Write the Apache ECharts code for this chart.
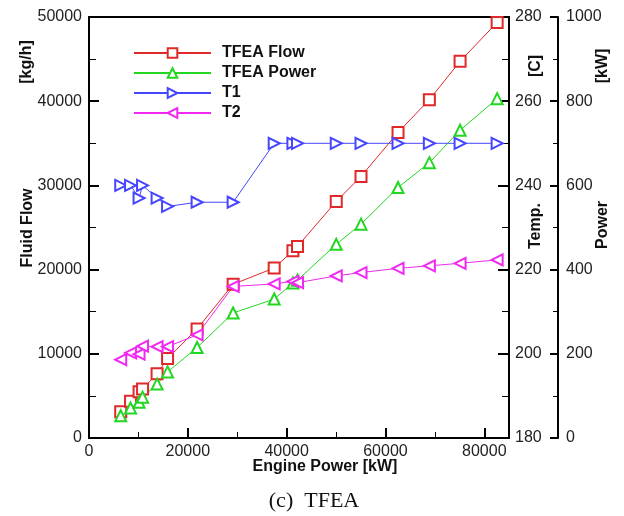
<!DOCTYPE html>
<html>
<head>
<meta charset="utf-8">
<script src="https://cdn.jsdelivr.net/npm/echarts@6/dist/echarts.min.js"></script>
<style>
html,body{margin:0;padding:0;background:#fff;}
#chart{width:624px;height:516px;}
</style>
</head>
<body>
<div id="chart"></div>
<script>
var enginePower = [6420, 8410, 10130, 10840, 13780, 15900, 21880, 29170, 37480, 41270, 42200, 50040, 55050, 62540, 68880, 75100, 82600];
var tfeaFlow = [3120, 4350, 5500, 5820, 7640, 9440, 12950, 18260, 20190, 22240, 22750, 28100, 31070, 36290, 40180, 44730, 49360];
var tfeaPower = [53, 71, 85, 97, 128, 157, 215, 297, 330, 368, 375, 460, 508, 595, 654, 731, 806];
var t1 = [240, 240, 237, 240, 237, 235, 236, 236, 250, 250, 250, 250, 250, 250, 250, 250, 250];
var t2 = [198.6, 200.2, 199.9, 201.8, 201.7, 201.7, 204.5, 216.0, 216.6, 217.2, 216.9, 218.5, 219.3, 220.3, 220.9, 221.5, 222.3];
var seriesNames = ['TFEA Flow', 'TFEA Power', 'T1', 'T2'];

function pairs(xs, ys) { return xs.map(function (x, i) { return [x, ys[i]]; }); }

var chart = echarts.init(document.getElementById('chart'), null, {renderer: 'canvas'});
var FONT = 'Liberation Sans';
var plain = function (v) { return String(v); };
var labelStyle = {color: '#222', fontFamily: FONT, fontSize: 16, formatter: plain};

function mkLine(name, color, data, yIdx, symbol, rot) {
  return {
    name: name, type: 'line', data: data, yAxisIndex: yIdx,
    symbol: symbol, symbolSize: 11, symbolRotate: rot,
    showAllSymbol: true,
    lineStyle: {color: color, width: 1},
    itemStyle: {color: color, borderColor: color, borderWidth: 1},
    emphasis: {disabled: true}, animation: false
  };
}

var option = {
  animation: false,
  grid: {left: 89, right: 115, top: 17, bottom: 78, show: true, borderColor: '#000', borderWidth: 2},
  legend: {
    data: seriesNames, orient: 'vertical', left: 128, top: 40,
    itemWidth: 77, itemHeight: 12, itemGap: 4, padding: 5,
    textStyle: {fontFamily: FONT, fontSize: 16, fontWeight: 'bold', color: '#111', lineHeight: 16, padding: [0, 0, 0, 6]},
    selectedMode: false
  },
  xAxis: {
    type: 'value', min: 0, max: 85000, interval: 20000,
    axisLine: {lineStyle: {color: '#000', width: 2}},
    axisTick: {inside: true, length: 10, lineStyle: {color: '#000', width: 2}},
    minorTick: {show: true, splitNumber: 2, length: 6, lineStyle: {color: '#000', width: 1}},
    splitLine: {show: false},
    axisLabel: Object.assign({margin: 6, showMaxLabel: false}, labelStyle)
  },
  yAxis: [
    {
      type: 'value', min: 0, max: 50000, interval: 10000, position: 'left',
      axisLine: {show: true, lineStyle: {color: '#000', width: 2}},
      axisTick: {show: true, inside: true, length: 10, lineStyle: {color: '#000', width: 2}},
      minorTick: {show: true, splitNumber: 2, length: 7, lineStyle: {color: '#000', width: 1}},
      splitLine: {show: false},
      axisLabel: Object.assign({margin: 7}, labelStyle)
    },
    {
      type: 'value', min: 180, max: 280, interval: 20, position: 'right', offset: 0,
      axisLine: {show: true, lineStyle: {color: '#000', width: 2}},
      axisTick: {show: true, inside: true, length: 11, lineStyle: {color: '#000', width: 2}},
      minorTick: {show: true, splitNumber: 2, length: 7, lineStyle: {color: '#000', width: 1}},
      splitLine: {show: false},
      axisLabel: Object.assign({margin: 6}, labelStyle)
    },
    {
      type: 'value', min: 0, max: 1000, interval: 200, position: 'right', offset: 49,
      axisLine: {show: true, lineStyle: {color: '#000', width: 2}},
      axisTick: {show: true, inside: true, length: 8, lineStyle: {color: '#000', width: 2}},
      minorTick: {show: true, splitNumber: 2, length: 5, lineStyle: {color: '#000', width: 1}},
      splitLine: {show: false},
      axisLabel: Object.assign({margin: 8}, labelStyle)
    }
  ],
  series: [
    mkLine('TFEA Flow', '#e02828', pairs(enginePower, tfeaFlow), 0, 'emptyRect', 0),
    mkLine('TFEA Power', '#22d622', pairs(enginePower, tfeaPower), 2, 'emptyTriangle', 0),
    mkLine('T1', '#4646ff', pairs(enginePower, t1), 1, 'emptyTriangle', -90),
    mkLine('T2', '#f028f0', pairs(enginePower, t2), 1, 'emptyTriangle', 90)
  ],
  graphic: [
    {type: 'text', x: 28, y: 228, rotation: Math.PI / 2, style: {text: 'Fluid Flow', font: 'bold 16px "Liberation Sans"', fill: '#111', align: 'center', verticalAlign: 'middle'}},
    {type: 'text', x: 27, y: 62, rotation: Math.PI / 2, style: {text: '[kg/h]', font: 'bold 16px "Liberation Sans"', fill: '#111', align: 'center', verticalAlign: 'middle'}},
    {type: 'text', x: 536, y: 226, rotation: Math.PI / 2, style: {text: 'Temp.', font: 'bold 16px "Liberation Sans"', fill: '#111', align: 'center', verticalAlign: 'middle'}},
    {type: 'text', x: 536, y: 66, rotation: Math.PI / 2, style: {text: '[C]', font: 'bold 16px "Liberation Sans"', fill: '#111', align: 'center', verticalAlign: 'middle'}},
    {type: 'text', x: 603, y: 225, rotation: Math.PI / 2, style: {text: 'Power', font: 'bold 16px "Liberation Sans"', fill: '#111', align: 'center', verticalAlign: 'middle'}},
    {type: 'text', x: 603, y: 66, rotation: Math.PI / 2, style: {text: '[kW]', font: 'bold 16px "Liberation Sans"', fill: '#111', align: 'center', verticalAlign: 'middle'}},
    {type: 'text', x: 325, y: 467, style: {text: 'Engine Power [kW]', font: 'bold 16px "Liberation Sans"', fill: '#111', align: 'center', verticalAlign: 'middle'}},
    {type: 'text', x: 314, y: 501, style: {text: '(c)  TFEA', font: '22px "Liberation Serif"', fill: '#111', align: 'center', verticalAlign: 'middle'}}
  ]
};
chart.setOption(option);
</script>
</body>
</html>
